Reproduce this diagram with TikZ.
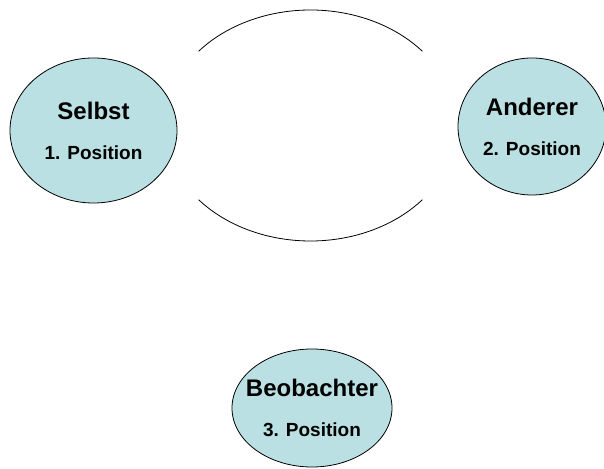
\documentclass[tikz,border=0pt]{standalone}
\usepackage{fontspec}
\setmainfont{Liberation Sans}
\usepackage{xcolor}
\definecolor{paleblue}{RGB}{187,224,227}
\usepackage{tikz}
\usetikzlibrary{shapes.geometric}

\begin{document}
\begin{tikzpicture}[x=1pt, y=1pt,
    posbox/.style={ellipse, draw, line width=0.8pt, fill=paleblue,
      inner sep=0pt, inner xsep=-20pt, align=center,
      font=\fontsize{24}{28}\selectfont\bfseries},
    bow/.style={line width=0.8pt}
]
\clip (0,0) rectangle (604,468);
\useasboundingbox (0,0) rectangle (604,468);

%% Positionen
\node[posbox, minimum width=167pt, minimum height=145pt] (selbst) at (93.5,337.5)
  {Selbst\\[12pt]{\fontsize{19}{22}\selectfont 1. Position}};
\node[posbox, minimum width=148pt, minimum height=137pt] (anderer) at (532,341.5)
  {Anderer\\[12pt]{\fontsize{19}{22}\selectfont 2. Position}};
\node[posbox, minimum width=160pt, minimum height=118pt] (beob) at (312,60)
  {Beobachter\\[12pt]{\fontsize{19}{22}\selectfont 3. Position}};

%% Bögen zwischen Selbst und Anderer
\coordinate (mitte) at (310.5,342.5);
\draw[bow] ([shift={(140:146 and 115.5)}]mitte)
  arc[start angle=140, end angle=40, x radius=146, y radius=115.5];
\draw[bow] ([shift={(220:146 and 115.5)}]mitte)
  arc[start angle=220, end angle=320, x radius=146, y radius=115.5];
\end{tikzpicture}
\end{document}
